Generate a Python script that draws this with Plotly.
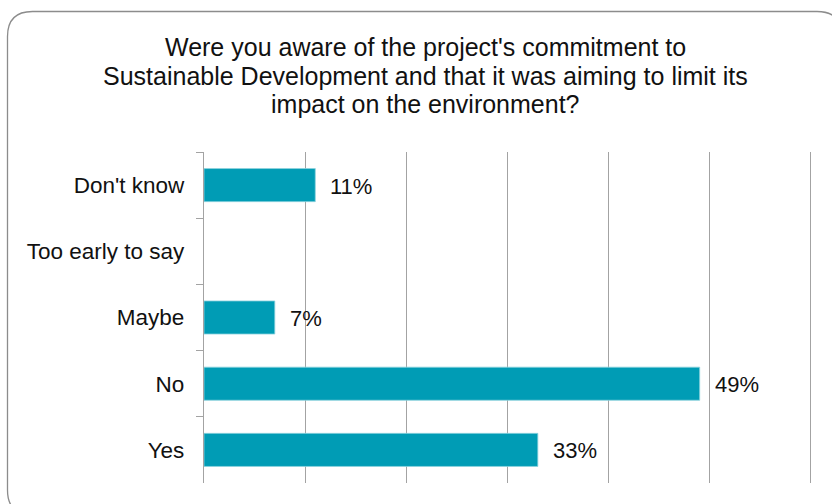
import plotly.graph_objects as go

# Survey responses (share of respondents, %)
categories = ["Don't know", "Too early to say", "Maybe", "No", "Yes"]
values = [11, 0, 7, 49, 33]
labels = ["11%", "", "7%", "49%", "33%"]

title_lines = [
    "Were you aware of the project's commitment to",
    "Sustainable Development and that it was aiming to limit its",
    "impact on the environment?",
]

W, H = 832, 504
L, R, T, B = 204, 18, 152, 21
X_MAX = 60.3
FONT = "Liberation Sans, Arial, Helvetica, sans-serif"
BAR = "#009cb5"
GRID = "#a3a3a3"
TEXT = "#111111"

fig = go.Figure(
    go.Bar(
        x=values,
        y=categories,
        orientation="h",
        width=0.5,
        marker=dict(color=BAR,
                    line=dict(color="#8fd3de",
                              width=[0.8 if v > 0 else 0 for v in values])),
        hoverinfo="skip",
    )
)

# value labels just right of each bar
for cat, v, lab in zip(categories, values, labels):
    if lab:
        fig.add_annotation(
            x=v, y=cat, text=lab, showarrow=False,
            xanchor="left", xshift=13, yshift=-1,
            font=dict(family=FONT, size=22, color=TEXT),
        )

# helpers: pixel position -> paper coordinates
pw, ph = W - L - R, H - T - B


def px(x):
    return (x - L) / pw


def py(y):
    return (H - B - y) / ph


# three-line heading, tight line spacing
for line, yc in zip(title_lines, [46.5, 75.5, 104]):
    fig.add_annotation(
        x=px(425), y=py(yc), xref="paper", yref="paper", text=line,
        showarrow=False, xanchor="center", yanchor="middle",
        font=dict(family=FONT, size=25, color=TEXT),
    )

# rounded frame around the whole chart
x0, y0, x1, y1, r = 7.5, 11.5, 842, 515, 25
path = (
    f"M {px(x0 + r)},{py(y0)} L {px(x1 - r)},{py(y0)} "
    f"Q {px(x1)},{py(y0)} {px(x1)},{py(y0 + r)} "
    f"L {px(x1)},{py(y1 - r)} Q {px(x1)},{py(y1)} {px(x1 - r)},{py(y1)} "
    f"L {px(x0 + r)},{py(y1)} Q {px(x0)},{py(y1)} {px(x0)},{py(y1 - r)} "
    f"L {px(x0)},{py(y0 + r)} Q {px(x0)},{py(y0)} {px(x0 + r)},{py(y0)} Z"
)
fig.add_shape(type="path", path=path, xref="paper", yref="paper",
              line=dict(color="#8c8c8c", width=1.3), layer="below")

fig.update_layout(
    width=W, height=H,
    margin=dict(l=L, r=R, t=T, b=B),
    paper_bgcolor="white",
    plot_bgcolor="white",
    showlegend=False,
    font=dict(family=FONT, size=22, color=TEXT),
    bargap=0.5,
)
fig.update_xaxes(
    range=[0, X_MAX], dtick=10, showticklabels=False,
    showgrid=True, gridcolor=GRID, gridwidth=1.3,
    zeroline=False, showline=False, fixedrange=True,
)
fig.update_yaxes(
    categoryorder="array", categoryarray=categories, autorange="reversed",
    showline=True, linecolor=GRID, linewidth=1.3,
    ticks="outside", tickson="boundaries", ticklen=7, tickcolor=GRID, tickwidth=1.3,
    ticklabelstandoff=14,
    showgrid=False, fixedrange=True,
    tickfont=dict(family=FONT, size=22.5, color=TEXT),
)

fig.write_html("out.html")
